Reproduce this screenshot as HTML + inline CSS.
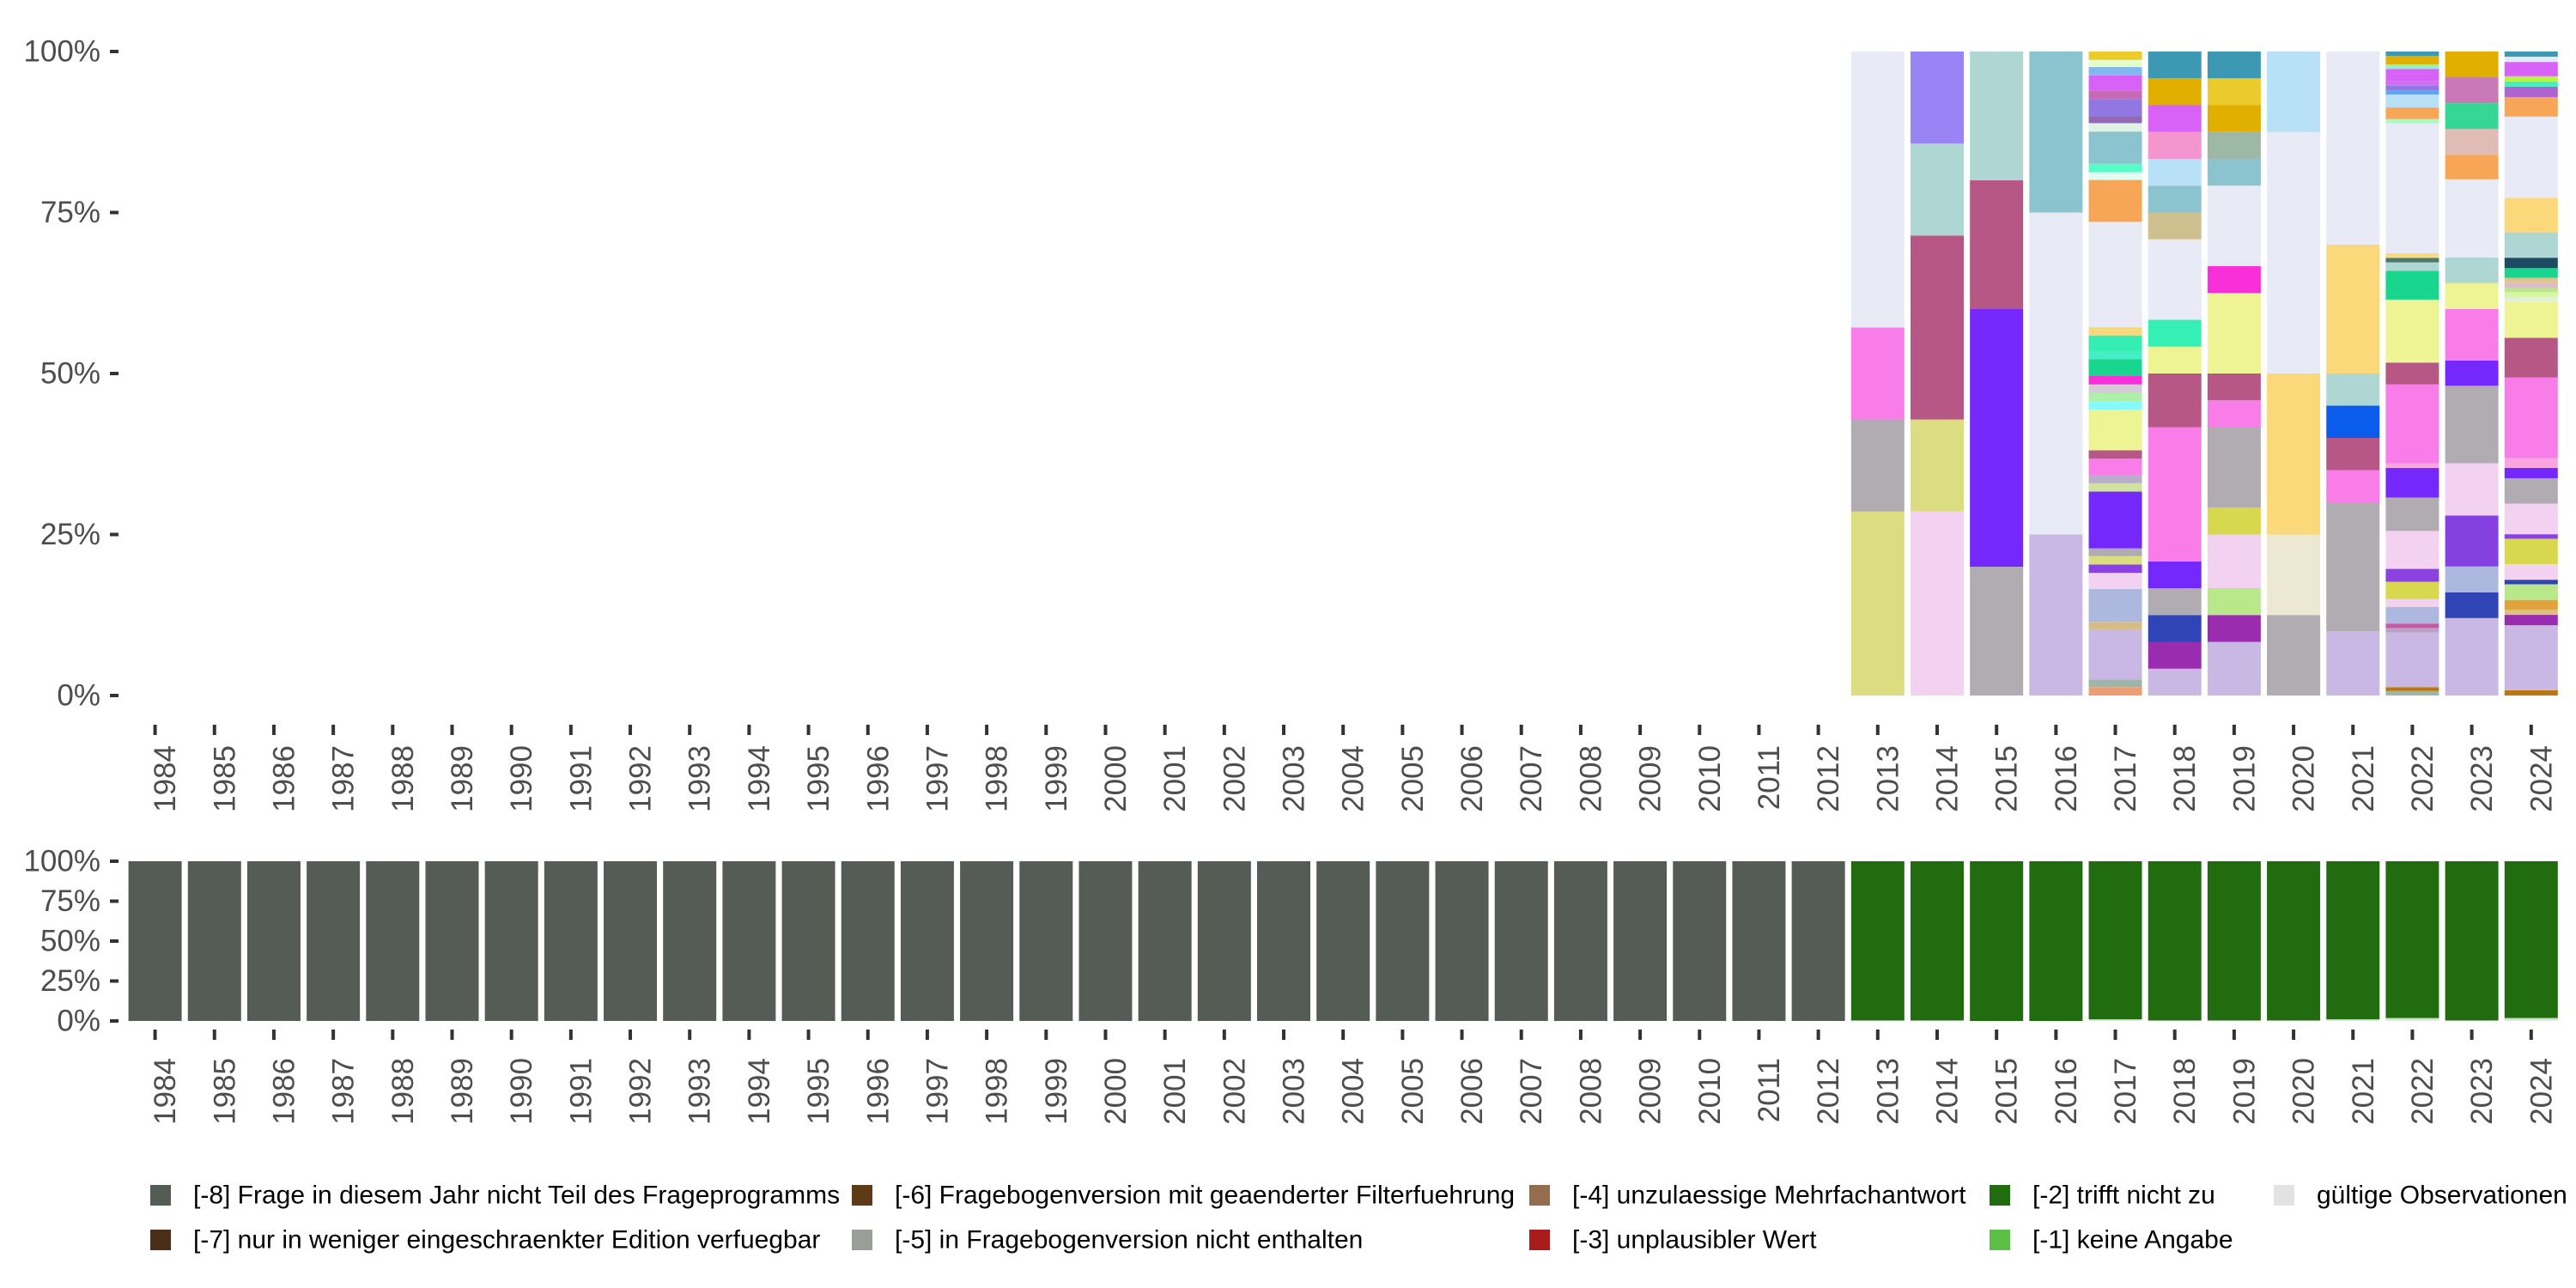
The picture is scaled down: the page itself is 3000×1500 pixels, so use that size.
<!DOCTYPE html>
<html><head><meta charset="utf-8"><style>
html,body{margin:0;padding:0;background:#fff;}
svg{display:block;font-family:"Liberation Sans","DejaVu Sans",sans-serif;}
</style></head><body>
<svg id="chart" width="3000" height="1500" viewBox="0 0 3000 1500" xmlns="http://www.w3.org/2000/svg">
<g id="topPanel"></g>
<g id="bottomPanel"></g>
<g id="legendGroup"></g>
</svg>
<script>
const years = [1984,1985,1986,1987,1988,1989,1990,1991,1992,1993,1994,1995,1996,1997,1998,1999,2000,2001,2002,2003,2004,2005,2006,2007,2008,2009,2010,2011,2012,2013,2014,2015,2016,2017,2018,2019,2020,2021,2022,2023,2024];
const yTicks = [0,25,50,75,100];
const yTickLabels = ["0%","25%","50%","75%","100%"];
const topYears = [2013,2014,2015,2016,2017,2018,2019,2020,2021,2022,2023,2024];
const seg2013 = [[2,"#DADE80"],[1,"#B1ABB2"],[1,"#F97DE8"],[3,"#E8EAF6"]];
const seg2014 = [[2,"#F3D1F0"],[1,"#DADE80"],[2,"#B75785"],[1,"#AED7D4"],[1,"#9984F5"]];
const seg2015 = [[1,"#B1ABB2"],[2,"#7428FC"],[1,"#B75785"],[1,"#AED7D4"]];
const seg2016 = [[1,"#C9B8E3"],[2,"#E8EAF6"],[1,"#8BC4CE"]];
const seg2017 = [[1.3,"#EC9E73"],[1.2,"#9EB5AA"],[7.7,"#C9B8E3"],[1.2,"#D8BC87"],[5.1,"#ADB8DE"],[2.5,"#F3D1F0"],[1.3,"#8A43E2"],[1.3,"#DADE80"],[1.2,"#B1ABB2"],[8.8,"#7428FC"],[1.3,"#CFE39A"],[1.2,"#BAADC9"],[2.6,"#F97DE8"],[1.3,"#B75785"],[6.3,"#EEF394"],[1.3,"#85FAFF"],[1.3,"#AFF0A8"],[1.3,"#D4CBD6"],[1.3,"#F92FD9"],[2.6,"#19D68E"],[1.2,"#46EDC6"],[2.5,"#34EEB2"],[1.3,"#FBD87A"],[16.3,"#E8EAF6"],[6.5,"#F7A657"],[1.2,"#DFFCF5"],[1.3,"#55FEC6"],[5,"#8BC4CE"],[1.3,"#E0F2E6"],[1.1,"#9269B5"],[2.6,"#9177E1"],[1.3,"#C56BB5"],[2.4,"#D862F8"],[1.3,"#80B8EE"],[1.1,"#E6FFC8"],[1.3,"#ECCB2C"]];
const seg2018 = [[1,"#C9B8E3"],[1,"#9A2DAF"],[1,"#2F45B5"],[1,"#B1ABB2"],[1,"#7428FC"],[5,"#F97DE8"],[2,"#B75785"],[1,"#EEF394"],[1,"#36EFB4"],[3,"#E8EAF6"],[1,"#CEC18F"],[1,"#8BC4CE"],[1,"#B8E0F7"],[1,"#F495D0"],[1,"#D862F8"],[1,"#E0AF00"],[1,"#3D99B3"]];
const seg2019 = [[2,"#C9B8E3"],[1,"#9A2DAF"],[1,"#B8E88A"],[2,"#F3D1F0"],[1,"#D8D84F"],[3,"#B1ABB2"],[1,"#F97DE8"],[1,"#B75785"],[3,"#EEF394"],[1,"#F92FD9"],[3,"#E8EAF6"],[1,"#8BC4CE"],[1,"#9DB8A5"],[1,"#E0AF00"],[1,"#EBCB2C"],[1,"#3D99B3"]];
const seg2020 = [[1,"#B1ABB2"],[1,"#EDE8D1"],[2,"#FBD87A"],[3,"#E8EAF6"],[1,"#B8E0F7"]];
const seg2021 = [[10,"#C9B8E3"],[20,"#B1ABB2"],[5,"#F97DE8"],[5,"#B75785"],[5,"#0B5CED"],[5,"#AED7D4"],[20,"#FBD87A"],[30,"#E8EAF6"]];
const seg2022 = [[0.7,"#9EB5AA"],[0.6,"#BA7612"],[8.5,"#C9B8E3"],[0.7,"#BAA0C9"],[0.7,"#C25B9F"],[2.6,"#ADB8DE"],[1.2,"#F3D1F0"],[2.7,"#D8D84F"],[2,"#8A43E2"],[5.9,"#F3D1F0"],[5.2,"#B1ABB2"],[4.6,"#7428FC"],[0.7,"#FBA5E0"],[12.3,"#F97DE8"],[3.4,"#B75785"],[9.8,"#EEF394"],[4.5,"#19D68E"],[1.3,"#AED7D4"],[0.7,"#4B7A66"],[0.7,"#FBD87A"],[20.2,"#E8EAF6"],[0.7,"#A8FCC7"],[1.8,"#F7A657"],[2,"#B8E0F7"],[0.7,"#5AAAF3"],[0.7,"#9177E1"],[0.7,"#D070F0"],[1.9,"#D862F8"],[0.7,"#8FF5C0"],[1.3,"#E0AF00"],[0.7,"#3D99B3"]];
const seg2023 = [[12,"#C9B8E3"],[4,"#2F45B5"],[4,"#ADB8DE"],[7.9,"#8540E2"],[8.1,"#F3D1F0"],[12,"#B1ABB2"],[3.9,"#7428FC"],[8,"#F97DE8"],[4,"#EEF394"],[4,"#AED7D4"],[12.1,"#E8EAF6"],[3.8,"#F7A657"],[4,"#DFBCB5"],[4,"#36D696"],[4,"#C979B6"],[4,"#E0AF00"]];
const seg2024 = [[0.8,"#BA7612"],[10,"#C9B8E3"],[1.6,"#9A2DAF"],[0.8,"#DDC07A"],[1.5,"#E2A33D"],[2.4,"#B8E88A"],[0.7,"#2F45B5"],[2.4,"#F3D1F0"],[3.9,"#D8D84F"],[0.7,"#8A43E2"],[4.7,"#F3D1F0"],[3.9,"#B1ABB2"],[1.6,"#7428FC"],[1.5,"#FBA5E0"],[12.4,"#F97DE8"],[6.1,"#B75785"],[5.5,"#EEF394"],[0.7,"#E3EFDA"],[0.8,"#D5F7A0"],[0.7,"#B8E88A"],[0.7,"#DABDC7"],[0.8,"#E2C290"],[1.5,"#19D68E"],[1.6,"#1C4C62"],[3.9,"#AED7D4"],[5.3,"#FBD87A"],[12.5,"#E8EAF6"],[3,"#F7A657"],[1.6,"#AD63D0"],[0.8,"#44F0C0"],[0.8,"#B6F73E"],[2.2,"#D862F8"],[0.8,"#DDEEFA"],[0.8,"#3D99B3"]];
const topSegs = [seg2013,seg2014,seg2015,seg2016,seg2017,seg2018,seg2019,seg2020,seg2021,seg2022,seg2023,seg2024];
const validShare = [0,0,0,0,0,0,0,0,0,0,0,0,0,0,0,0,0,0,0,0,0,0,0,0,0,0,0,0,0,0.3,0.3,0,0,1,0.3,0.3,0.3,1,1.5,0.3,1.5];
const noAnswerShare = [0,0,0,0,0,0,0,0,0,0,0,0,0,0,0,0,0,0,0,0,0,0,0,0,0,0,0,0,0,0,0,0,0,0,0,0,0,0,0.5,0,0.5];
const notApplicableShare = [0,0,0,0,0,0,0,0,0,0,0,0,0,0,0,0,0,0,0,0,0,0,0,0,0,0,0,0,0,99.7,99.7,100,100,99,99.7,99.7,99.7,99,98,99.7,98];
const notInProgramShare = [100,100,100,100,100,100,100,100,100,100,100,100,100,100,100,100,100,100,100,100,100,100,100,100,100,100,100,100,100,0,0,0,0,0,0,0,0,0,0,0,0];
const legendLabels = ["[-8] Frage in diesem Jahr nicht Teil des Frageprogramms","[-7] nur in weniger eingeschraenkter Edition verfuegbar","[-6] Fragebogenversion mit geaenderter Filterfuehrung","[-5] in Fragebogenversion nicht enthalten","[-4] unzulaessige Mehrfachantwort","[-3] unplausibler Wert","[-2] trifft nicht zu","[-1] keine Angabe","gültige Observationen"];
const legendColors = ["#555B55","#4A2E17","#5E3B17","#9A9E98","#946E4C","#A81C1C","#226C10","#5CBF45","#E0E3DF"];

const NS="http://www.w3.org/2000/svg";
function mk(tag, attrs, parent){const e=document.createElementNS(NS,tag);for(const k in attrs)e.setAttribute(k,attrs[k]);parent.appendChild(e);return e;}
const x0=146, step=69.18, bw=62;
function xc(i){return x0+step*(i+0.5);}
function yTop(v){return 810-v/100*750;}
function yBot(v){return 1189-v/100*186;}
const topG=document.getElementById('topPanel'), botG=document.getElementById('bottomPanel'), legG=document.getElementById('legendGroup');

function axes(g, yf, tickY1, tickY2, labelEndY, prefix){
  yTicks.forEach((t,i)=>{
    const tk=mk('rect',{x:128,y:yf(t)-2,width:10,height:4,fill:'#333'},g);
    
    
    const tl=mk('text',{x:117,y:yf(t),'text-anchor':'end','dominant-baseline':'central','font-size':35,fill:'#4D4D4D'},g);
    tl.textContent=yTickLabels[i];
    
    
  });
  years.forEach((yr,i)=>{
    const tk=mk('rect',{x:xc(i)-2,y:tickY1,width:4,height:tickY2-tickY1,fill:'#333'},g);
    
    
    const cx=xc(i)+12;
    const tl=mk('text',{x:cx,y:labelEndY,'text-anchor':'end','dominant-baseline':'central','font-size':35,fill:'#4D4D4D',transform:'rotate(-90 '+cx+' '+labelEndY+')'},g);
    tl.textContent=yr;
    
    
  });
}
axes(topG,yTop,844,856,868,'top');
axes(botG,yBot,1199,1211,1232,'bottom');

topYears.forEach((yr,j)=>{
  const i=years.indexOf(yr); const segs=topSegs[j];
  const total=segs.reduce((a,s)=>a+s[0],0); let cum=0;
  segs.forEach(s=>{
    const v0=cum/total*100, v1=(cum+s[0])/total*100; cum+=s[0];
    const r=mk('rect',{x:xc(i)-bw/2,y:yTop(v1),width:bw,height:yTop(v0)-yTop(v1),fill:s[1]},topG);
    
    
  });
});
const botSeries=[[validShare,"#E0E3DF"],[noAnswerShare,"#5CBF45"],[notApplicableShare,"#226C10"],[notInProgramShare,"#555B55"]];
years.forEach((yr,i)=>{
  let cum=0;
  botSeries.forEach(s=>{
    const v=s[0][i]; if(v<=0)return;
    const r=mk('rect',{x:xc(i)-bw/2,y:yBot(cum+v),width:bw,height:yBot(cum)-yBot(cum+v),fill:s[1]},botG);
    
    
    cum+=v;
  });
});
const legPos=[[175,1392],[175,1444],[992,1392],[992,1444],[1781,1392],[1781,1444],[2317,1392],[2317,1444],[2648,1392]];
legendLabels.forEach((lab,i)=>{
  const lx=legPos[i][0], ly=legPos[i][1];
  const g=mk('g',{},legG);
  
  
  const sw=mk('rect',{x:lx,y:ly-12,width:24,height:24,fill:legendColors[i]},g);
  
  
  const t=mk('text',{x:lx+50,y:ly,'dominant-baseline':'central','font-size':30,fill:'#000'},g);
  t.textContent=lab;
  
  
});
</script>
</body></html>
